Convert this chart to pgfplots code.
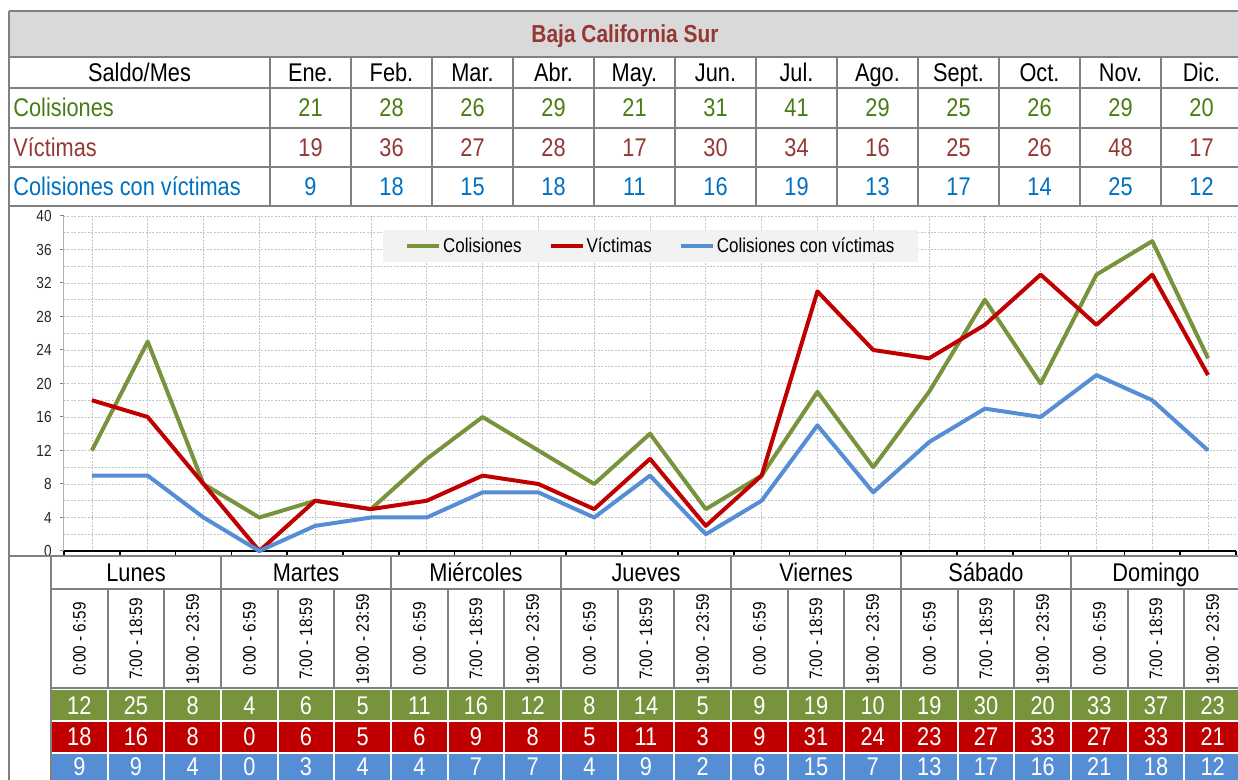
\documentclass[border=0pt]{standalone}
\usepackage{pgfplots}
\pgfplotsset{compat=1.18}
\usepackage{pgfplotstable}
\usepackage{fontspec}
\setmainfont{Liberation Sans}[FakeStretch=0.85]

\definecolor{cgreen}{HTML}{77933C}
\definecolor{cred}{HTML}{C00000}
\definecolor{cblue}{HTML}{558ED5}
\definecolor{tgreen}{HTML}{4A7C14}
\definecolor{tred}{HTML}{953735}
\definecolor{tblue}{HTML}{0070C0}
\definecolor{bordergray}{HTML}{808080}
\definecolor{titlegray}{HTML}{D9D9D9}
\definecolor{leggray}{HTML}{F2F2F2}
\definecolor{gridgray}{HTML}{C4C4C4}

\pgfplotstableread{
x col vic cv
0 12 18 9
1 25 16 9
2 8 8 4
3 4 0 0
4 6 6 3
5 5 5 4
6 11 6 4
7 16 9 7
8 12 8 7
9 8 5 4
10 14 11 9
11 5 3 2
12 9 9 6
13 19 31 15
14 10 24 7
15 19 23 13
16 30 27 17
17 20 33 16
18 33 27 21
19 37 33 18
20 23 21 12
}\hourly

\begin{document}
\begin{tikzpicture}
\useasboundingbox (0,0) rectangle (619pt,-390pt);
\clip (0,0) rectangle (619pt,-390pt);
\begin{axis}[
  at={(32pt,-275.5pt)}, anchor=south west,
  scale only axis, width=586pt, height=167.5pt,
  xmin=-0.5, xmax=20.5, ymin=0, ymax=40,
  axis x line*=bottom, axis y line*=left,
  xtick={-0.5,0.5,...,20.5}, xticklabels={},
  minor xtick={0,...,20},
  ytick={0,4,...,40}, minor ytick={2,6,...,38},
  xminorgrids=true, xmajorgrids=false, ymajorgrids=true, yminorgrids=true,
  major grid style={gridgray, dash pattern=on 1pt off 0.7pt, line width=0.4pt},
  minor grid style={gridgray, dash pattern=on 1pt off 0.7pt, line width=0.4pt},
  tick align=outside,
  major tick length=2pt, minor tick length=0pt,
  x axis line style={black, line width=0.8pt, -},
  y axis line style={bordergray!60, line width=0.5pt, -},
  xtick style={black, line width=0.8pt},
  ytick style={bordergray, line width=0.5pt},
  /pgf/number format/assume math mode=true,
  yticklabel style={font=\fontsize{8}{9}\selectfont, inner sep=0pt, xshift=-4pt, text=black!85},
  clip=false,
  legend columns=3,
  legend cell align=left,
  legend image code/.code={\draw[#1, line width=2pt] (0pt,0pt) -- (16pt,0pt);},
  legend style={at={(0.272,0.958)}, anchor=north west, fill=leggray, draw=none,
    font=\fontsize{10}{12}\selectfont, inner xsep=11pt, inner ysep=2.5pt,
    nodes={inner sep=1pt},
    /tikz/every even column/.append style={column sep=12.5pt}},
]
\addplot[cgreen, line width=2pt, line join=round] table[x=x, y=col]{\hourly};
\addlegendentry{Colisiones}
\addplot[cred, line width=2pt, line join=round] table[x=x, y=vic]{\hourly};
\addlegendentry{Víctimas}
\addplot[cblue, line width=2pt, line join=round] table[x=x, y=cv]{\hourly};
\addlegendentry{Colisiones con víctimas}
\end{axis}

\begin{scope}[x=0.5pt, y=-0.5pt,
  tt/.style={font=\fontsize{12.8}{15}\selectfont, anchor=base, inner sep=0pt},
  bl/.style={bordergray, line width=1pt}]
  % top table
  \fill[titlegray] (9,11) rectangle (1238,57);
  \node[font=\bfseries\fontsize{12.3}{14}\selectfont, text=tred, anchor=base, inner sep=0pt] at (625,42.5) {Baja California Sur};
  \foreach \yy in {11,57,88,128,167,206} \draw[bl] (9,\yy) -- (1238,\yy);
  \draw[bl] (9,11) -- (9,780);
  \foreach \k in {0,...,11} \draw[bl] (270+81*\k,57) -- (270+81*\k,206);
  \node[tt] at (139.5,81.5) {Saldo/Mes};
  \foreach \m [count=\i from 0] in {Ene.,Feb.,Mar.,Abr.,May.,Jun.,Jul.,Ago.,Sept.,Oct.,Nov.,Dic.}
    \node[tt] at (310.5+81*\i,81.5) {\m};
  \node[tt, anchor=base west, text=tgreen] at (13,117) {Colisiones};
  \node[tt, anchor=base west, text=tred] at (13,156.5) {Víctimas};
  \node[tt, anchor=base west, text=tblue] at (13,195.5) {Colisiones con víctimas};
  \foreach \v [count=\i from 0] in {21,28,26,29,21,31,41,29,25,26,29,20}
    \node[tt, text=tgreen] at (310.5+81*\i,117) {\v};
  \foreach \v [count=\i from 0] in {19,36,27,28,17,30,34,16,25,26,48,17}
    \node[tt, text=tred] at (310.5+81*\i,156.5) {\v};
  \foreach \v [count=\i from 0] in {9,18,15,18,11,16,19,13,17,14,25,12}
    \node[tt, text=tblue] at (310.5+81*\i,195.5) {\v};

  % bottom table
  \draw[bl] (9,556) -- (1238,556);
  \draw[bl] (51,556) -- (51,780);
  \draw[bl] (51,589) -- (1238,589);
  \draw[bl] (51,688) -- (1238,688);
  \foreach \k in {1,...,6} \draw[bl] (51+170*\k,556) -- (51+170*\k,688);
  \foreach \j in {1,2,4,5,7,8,10,11,13,14,16,17,19,20}
    \draw[bl] (51+56.667*\j,589) -- (51+56.667*\j,688);
  \foreach \d [count=\i from 0] in {Lunes,Martes,Miércoles,Jueves,Viernes,Sábado,Domingo}
    \node[tt] at (136+170*\i,582) {\d};
  \foreach \dd in {0,...,6}
    \foreach \t [count=\s from 0] in {0:00 - 6:59,7:00 - 18:59,19:00 - 23:59}
      \node[rotate=90, font=\fontsize{9}{10}\selectfont, inner sep=0pt] at (51+56.667*3*\dd+56.667*\s+28.33,639) {\t};
  \foreach \v [count=\j from 0] in {12,25,8,4,6,5,11,16,12,8,14,5,9,19,10,19,30,20,33,37,23} {
    \fill[cgreen] (51+56.667*\j+1,690) rectangle (51+56.667*\j+55.667,720);
    \node[tt, text=white] at (51+56.667*\j+28.33,714) {\v};
  }
  \foreach \v [count=\j from 0] in {18,16,8,0,6,5,6,9,8,5,11,3,9,31,24,23,27,33,27,33,21} {
    \fill[cred] (51+56.667*\j+1,722) rectangle (51+56.667*\j+55.667,752);
    \node[tt, text=white] at (51+56.667*\j+28.33,746) {\v};
  }
  \foreach \v [count=\j from 0] in {9,9,4,0,3,4,4,7,7,4,9,2,6,15,7,13,17,16,21,18,12} {
    \fill[cblue] (51+56.667*\j+1,754) rectangle (51+56.667*\j+55.667,790);
    \node[tt, text=white] at (51+56.667*\j+28.33,776) {\v};
  }
\end{scope}
\end{tikzpicture}
\end{document}
